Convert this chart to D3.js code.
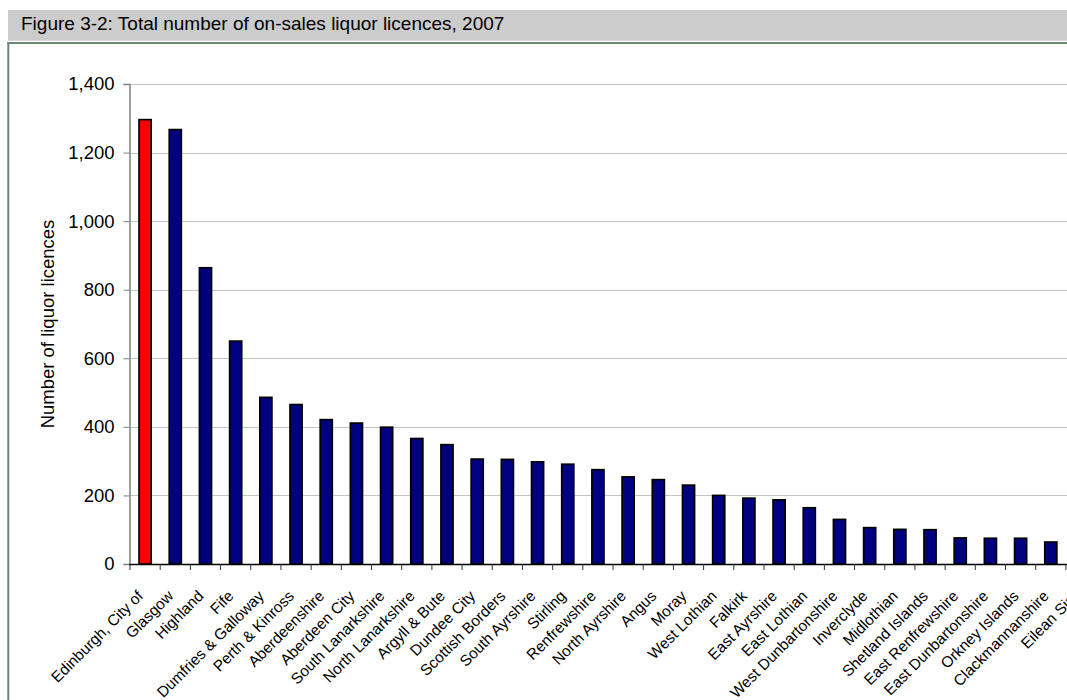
<!DOCTYPE html>
<html>
<head>
<meta charset="utf-8">
<script src="https://cdn.jsdelivr.net/npm/d3@7/dist/d3.min.js"></script>
<style>
  html, body { margin: 0; padding: 0; background: #ffffff; overflow: hidden; }
  svg { display: block; }
  text { font-family: "Liberation Sans", Arial, Helvetica, sans-serif; fill: #000; }
</style>
</head>
<body>
<svg id="chart" width="1110" height="700"></svg>
<script>
// ---- data ----
const titleText = "Figure 3-2: Total number of on-sales liquor licences, 2007";
const yAxisTitle = "Number of liquor licences";
const categories = [
  "Edinburgh, City of", "Glasgow", "Highland", "Fife", "Dumfries & Galloway",
  "Perth & Kinross", "Aberdeenshire", "Aberdeen City", "South Lanarkshire",
  "North Lanarkshire", "Argyll & Bute", "Dundee City", "Scottish Borders",
  "South Ayrshire", "Stirling", "Renfrewshire", "North Ayrshire", "Angus",
  "Moray", "West Lothian", "Falkirk", "East Ayrshire", "East Lothian",
  "West Dunbartonshire", "Inverclyde", "Midlothian", "Shetland Islands",
  "East Renfrewshire", "East Dunbartonshire", "Orkney Islands",
  "Clackmannanshire", "Eilean Siar"
];
const licences = [
  1296, 1267, 864, 650, 486,
  465, 421, 411, 399,
  366, 348, 306, 305,
  298, 291, 275, 254, 246,
  230, 200, 192, 187, 164,
  130, 106, 101, 100,
  76, 75, 75,
  64, 60
];
const highlighted = ["Edinburgh, City of"];
const yTicks = [0, 200, 400, 600, 800, 1000, 1200, 1400];

// ---- layout ----
const svg = d3.select("#chart");
const plotLeft = 130, plotTop = 84, plotBottom = 564;
const band = 30.19;
const plotRight = plotLeft + band * categories.length;

// frame + title bar
svg.append("rect").attr("x", 8).attr("y", 10).attr("width", 1110).attr("height", 30.7)
  .attr("fill", "#cccccc");
svg.append("text").attr("x", 21).attr("y", 30).attr("font-size", 19)
  .attr("fill", "#111").text(titleText);
svg.append("line").attr("x1", 7.3).attr("x2", 1110).attr("y1", 43).attr("y2", 43)
  .attr("stroke", "#6e8676").attr("stroke-width", 2);
svg.append("line").attr("x1", 8.3).attr("x2", 8.3).attr("y1", 42).attr("y2", 700)
  .attr("stroke", "#6e8676").attr("stroke-width", 2);

// scales
const x = d3.scaleBand().domain(categories).range([plotLeft, plotRight])
  .paddingInner(0.6).paddingOuter(0.3);
const y = d3.scaleLinear().domain([0, 1400]).range([plotBottom, plotTop]);

// gridlines
svg.append("g").selectAll("line").data(yTicks.filter(d => d > 0)).join("line")
  .attr("x1", plotLeft).attr("x2", plotRight)
  .attr("y1", d => Math.round(y(d)) + 0.5).attr("y2", d => Math.round(y(d)) + 0.5)
  .attr("stroke", "#c4c4c4").attr("stroke-width", 1);

// bars
svg.append("g").selectAll("rect").data(categories).join("rect")
  .attr("x", d => x(d))
  .attr("width", x.bandwidth())
  .attr("y", (d, i) => y(licences[i]))
  .attr("height", (d, i) => plotBottom - y(licences[i]))
  .attr("fill", d => highlighted.includes(d) ? "#ff0000" : "#000080")
  .attr("stroke", "#000").attr("stroke-width", 1.7);

// y axis
const yAxis = d3.axisLeft(y).tickValues(yTicks).tickSize(6).tickPadding(9)
  .tickFormat(d3.format(","));
const gy = svg.append("g").attr("transform", `translate(${plotLeft - 0.5},0)`).call(yAxis);
gy.select(".domain").attr("stroke", "#808080").attr("stroke-width", 1.5);
gy.selectAll(".tick line").attr("stroke", "#808080");
gy.selectAll(".tick text").attr("font-size", 18.5).attr("font-family", null).attr("fill", "#000");

// x axis
const xEdges = d3.scaleLinear().domain([0, categories.length]).range([plotLeft, plotRight]);
svg.append("line").attr("x1", plotLeft - 1).attr("x2", plotRight)
  .attr("y1", plotBottom + 0.5).attr("y2", plotBottom + 0.5)
  .attr("stroke", "#000").attr("stroke-width", 1.5);
svg.append("g").selectAll("line").data(d3.range(categories.length + 1)).join("line")
  .attr("x1", i => xEdges(i)).attr("x2", i => xEdges(i))
  .attr("y1", plotBottom).attr("y2", plotBottom + 6)
  .attr("stroke", "#333").attr("stroke-width", 1);
svg.append("g").selectAll("text").data(categories).join("text")
  .attr("transform", d => `translate(${x(d) + x.bandwidth() / 2 - 1},${plotBottom + 33}) rotate(-45)`)
  .attr("text-anchor", "end").attr("font-size", 15.4).text(d => d);

// y axis title
svg.append("text")
  .attr("transform", `translate(54,${(plotTop + plotBottom) / 2}) rotate(-90)`)
  .attr("text-anchor", "middle").attr("font-size", 18.5).text(yAxisTitle);
</script>
</body>
</html>
